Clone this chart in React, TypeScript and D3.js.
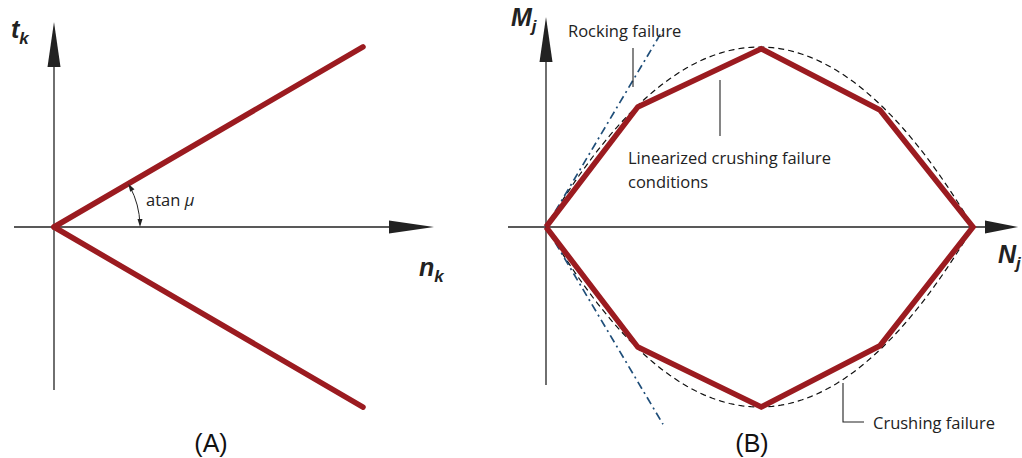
import React from "react";
import * as d3 from "d3";

// Panel A: Coulomb friction cone
const muA = 0.583;
const nMaxA = 10;
const coneN = [0, nMaxA];

// Panel B: crushing / rocking domain (normalized)
const polyN = [0, 0.215, 0.504, 0.782, 1, 0.782, 0.504, 0.215, 0];
const polyM = [0, 0.667, 0.99, 0.65, 0, -0.66, -1.0, -0.667, 0];
const rockSlope = 4;
const rockNmax = 0.274;
const curveN = d3.range(0, 1.0001, 0.01);

const RED = "#9b1b20";
const BLUE = "#1f4e79";

const xA = d3.scaleLinear().domain([0, nMaxA]).range([54, 363]);
const yA = d3.scaleLinear().domain([0, nMaxA]).range([227, -82]);
const xB = d3.scaleLinear().domain([0, 1]).range([546, 973]);
const yB = d3.scaleLinear().domain([0, 1]).range([227, 47]);

function arrowUp(x: number, tip: number, base: number, hw = 6.5) {
  return `M${x},${tip} L${x + hw},${base} L${x - hw},${base} Z`;
}
function arrowRight(y: number, tip: number, base: number, hw = 6.5) {
  return `M${tip},${y} L${base},${y - hw} L${base},${y + hw} Z`;
}

export default function App() {
  const line = d3.line<[number, number]>();
  const coneUp = line(coneN.map((n) => [xA(n), yA(muA * n)]));
  const coneDn = line(coneN.map((n) => [xA(n), yA(-muA * n)]));
  const poly = line(polyN.map((n, i) => [xB(n), yB(polyM[i])]));
  const curveTop = line(curveN.map((n) => [xB(n), yB(4 * n * (1 - n))]));
  const curveBot = line(curveN.map((n) => [xB(n), yB(-4 * n * (1 - n))]));
  const rockTop = line([[xB(0), yB(0)], [xB(rockNmax), yB(rockSlope * rockNmax)]]);
  const rockBot = line([[xB(0), yB(0)], [xB(rockNmax), yB(-rockSlope * rockNmax)]]);

  // angle arc
  const ox = xA(0), oy = yA(0);
  const r = 86;
  const ang = Math.atan(muA);
  const a0 = 0.03, a1 = ang - 0.04;
  const arc = `M${ox + r * Math.cos(a0)},${oy - r * Math.sin(a0)} A${r},${r} 0 0 0 ${ox + r * Math.cos(a1)},${oy - r * Math.sin(a1)}`;
  const tipAt = (a: number, dir: number) => {
    const px = ox + r * Math.cos(a), py = oy - r * Math.sin(a);
    const tx = -Math.sin(a) * dir, ty = -Math.cos(a) * dir;
    const nx = Math.cos(a), ny = -Math.sin(a);
    const L = 8, W = 2.5;
    return `M${px},${py} L${px - tx * L + nx * W},${py - ty * L + ny * W} L${px - tx * L - nx * W},${py - ty * L - ny * W} Z`;
  };

  const labelFont = "'Open Sans', 'Noto Sans', sans-serif";
  const symFont = "'Liberation Sans', Arial, sans-serif";
  const fs = 16.5;

  return (
    <svg width={1022} height={458} style={{ position: "absolute", left: 0, top: 0, background: "#fff" }}>
      {/* Panel A axes */}
      <line x1={54} y1={390} x2={54} y2={60} stroke="#222" strokeWidth={1.3} />
      <path d={arrowUp(54, 22, 67)} fill="#222" />
      <line x1={14} y1={227} x2={395} y2={227} stroke="#222" strokeWidth={1.3} />
      <path d={arrowRight(227, 434, 389)} fill="#222" />
      <path d={coneUp!} stroke={RED} strokeWidth={5.5} fill="none" strokeLinecap="round" />
      <path d={coneDn!} stroke={RED} strokeWidth={5.5} fill="none" strokeLinecap="round" />
      <path d={arc} stroke="#222" strokeWidth={1} fill="none" />
      <path d={tipAt(a0 - 0.03, -1)} fill="#222" />
      <path d={tipAt(a1 + 0.04, 1)} fill="#222" />
      <text x={146} y={206} fontFamily={labelFont} fontSize={fs} fill="#222">
        atan <tspan fontStyle="italic">μ</tspan>
      </text>
      <text x={11} y={38} fontFamily={symFont} fontSize={25} fontWeight="bold" fontStyle="italic" fill="#222">
        t<tspan fontSize={17} dy={6}>k</tspan>
      </text>
      <text x={419} y={276} fontFamily={symFont} fontSize={25} fontWeight="bold" fontStyle="italic" fill="#222">
        n<tspan fontSize={17} dy={6}>k</tspan>
      </text>
      <text x={211} y={452} fontFamily={symFont} fontSize={25} fill="#111" textAnchor="middle">(A)</text>

      {/* Panel B axes */}
      <line x1={546} y1={385} x2={546} y2={55} stroke="#222" strokeWidth={1.3} />
      <path d={arrowUp(546, 17, 62)} fill="#222" />
      <line x1={508} y1={227} x2={990} y2={227} stroke="#222" strokeWidth={1.3} />
      <path d={arrowRight(227, 1018, 985)} fill="#222" />
      <path d={curveTop!} stroke="#111" strokeWidth={1.2} strokeDasharray="6,4" fill="none" />
      <path d={curveBot!} stroke="#111" strokeWidth={1.2} strokeDasharray="6,4" fill="none" />
      <path d={rockTop!} stroke={BLUE} strokeWidth={1.7} strokeDasharray="8,4,2,4" fill="none" />
      <path d={rockBot!} stroke={BLUE} strokeWidth={1.7} strokeDasharray="8,4,2,4" fill="none" />
      <path d={poly!} stroke={RED} strokeWidth={5.5} fill="none" strokeLinejoin="miter" />
      {/* leaders */}
      <line x1={633} y1={48} x2={633} y2={87} stroke="#222" strokeWidth={1.1} />
      <line x1={720} y1={80} x2={720} y2={136} stroke="#222" strokeWidth={1.1} />
      <polyline points="843,383 843,422 864,422" stroke="#222" strokeWidth={1.1} fill="none" />
      <text x={568} y={37} fontFamily={labelFont} fontSize={fs} fill="#222">Rocking failure</text>
      <text x={628} y={164} fontFamily={labelFont} fontSize={fs} fill="#222">Linearized crushing failure</text>
      <text x={628} y={188} fontFamily={labelFont} fontSize={fs} fill="#222">conditions</text>
      <text x={873} y={429} fontFamily={labelFont} fontSize={fs} fill="#222">Crushing failure</text>
      <text x={511} y={26} fontFamily={symFont} fontSize={25} fontWeight="bold" fontStyle="italic" fill="#222">
        M<tspan fontSize={17} dy={6}>j</tspan>
      </text>
      <text x={998} y={263} fontFamily={symFont} fontSize={25} fontWeight="bold" fontStyle="italic" fill="#222">
        N<tspan fontSize={17} dy={6}>j</tspan>
      </text>
      <text x={752} y={452} fontFamily={symFont} fontSize={25} fill="#111" textAnchor="middle">(B)</text>
    </svg>
  );
}
